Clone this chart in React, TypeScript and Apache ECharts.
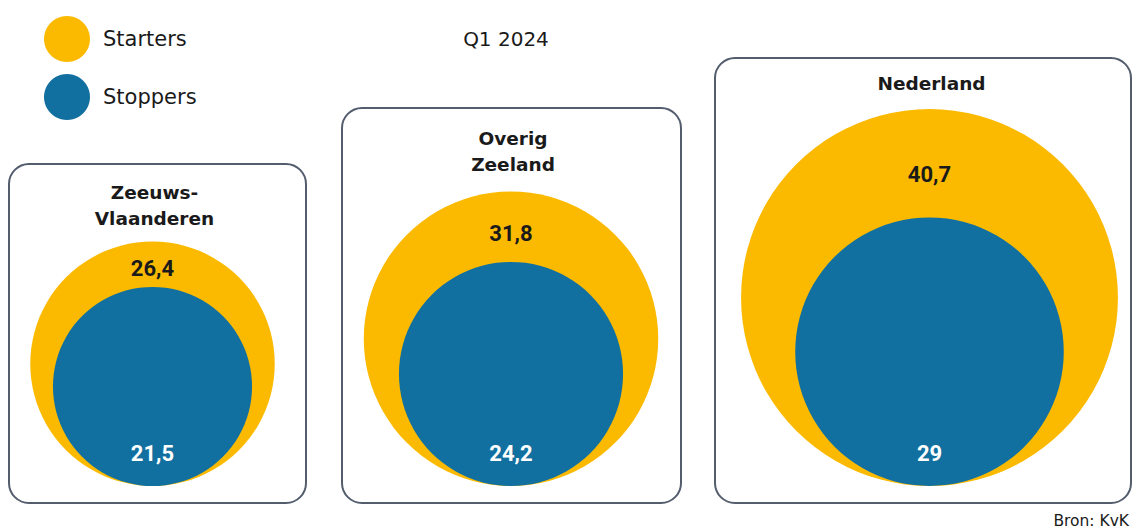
import React, { useEffect, useRef } from "react";
import * as echarts from "echarts";

const regions = ["Zeeuws-\nVlaanderen", "Overig\nZeeland", "Nederland"];
const starters = [26.4, 31.8, 40.7];
const stoppers = [21.5, 24.2, 29];
const chartTitle = "Q1 2024";
const source = "Bron: KvK";

const YELLOW = "#FBBA00";
const BLUE = "#1170A0";
const TEXT = "#1a1a1a";
const BORDER = "#535D6D";
const FONT = "DejaVu Sans";
const NUMFONT = "Roboto";

// layout (pixels)
const centersX = [152.5, 511, 929.5];
const baselineY = 486;
const pxPerUnit = 4.63;
const yMax = 50;
const boxes = [
  { x: 9, y: 164, w: 297, h: 339 },
  { x: 342, y: 108, w: 339, h: 395 },
  { x: 715, y: 58, w: 416, h: 445 },
];
const titleCenterY = [205, 151.5, 83];

const fmt = (v: number) => String(v).replace(".", ",");

export default function App() {
  const ref = useRef<HTMLDivElement>(null);
  useEffect(() => {
    document.body.style.margin = "0";
    const chart = echarts.init(ref.current!, null, { renderer: "svg" });
    const gridH = yMax * pxPerUnit;
    const grids = centersX.map((cx) => ({
      left: cx - 50,
      width: 100,
      top: baselineY - gridH,
      height: gridH,
    }));
    const xAxes = regions.map((r, i) => ({
      type: "category",
      gridIndex: i,
      data: [r],
      show: false,
    }));
    const yAxes = regions.map((_, i) => ({
      type: "value",
      gridIndex: i,
      min: 0,
      max: yMax,
      show: false,
      splitLine: { show: false },
    }));
    const starterSeries = regions.map((_, i) => ({
      type: "custom",
      name: "Starters",
      xAxisIndex: i,
      yAxisIndex: i,
      itemStyle: { color: YELLOW },
      data: [[0, starters[i], stoppers[i]]],
      renderItem: (params: any, api: any) => {
        const base = api.coord([0, 0]);
        const r = api.size([0, api.value(1)])[1];
        const rb = api.size([0, api.value(2)])[1];
        const yTop = base[1] - 2 * r;
        const bTop = base[1] - 2 * rb;
        return {
          type: "group",
          children: [
            {
              type: "circle",
              shape: { cx: base[0], cy: base[1] - r, r },
              style: { fill: YELLOW },
            },
            {
              type: "text",
              z2: 10,
              style: {
                text: fmt(api.value(1)),
                x: base[0],
                y: yTop + (bTop - yTop) * 0.6,
                align: "center",
                verticalAlign: "middle",
                fill: TEXT,
                fontSize: 22,
                fontWeight: "bold",
                fontFamily: NUMFONT,
              },
            },
          ],
        };
      },
    }));
    const stopperSeries = regions.map((_, i) => ({
      type: "custom",
      name: "Stoppers",
      xAxisIndex: i,
      yAxisIndex: i,
      itemStyle: { color: BLUE },
      data: [[0, stoppers[i]]],
      renderItem: (params: any, api: any) => {
        const base = api.coord([0, 0]);
        const r = api.size([0, api.value(1)])[1];
        return {
          type: "group",
          children: [
            {
              type: "circle",
              shape: { cx: base[0], cy: base[1] - r, r },
              style: { fill: BLUE },
            },
            {
              type: "text",
              z2: 10,
              style: {
                text: fmt(api.value(1)),
                x: base[0],
                y: base[1] - 33,
                align: "center",
                verticalAlign: "middle",
                fill: "#ffffff",
                fontSize: 22,
                fontWeight: "bold",
                fontFamily: NUMFONT,
              },
            },
          ],
        };
      },
    }));

    const graphics: any[] = [];
    boxes.forEach((b, i) => {
      graphics.push({
        type: "rect",
        z: -1,
        shape: { x: b.x, y: b.y, width: b.w, height: b.h, r: 20 },
        style: { fill: "#ffffff", stroke: BORDER, lineWidth: 2 },
      });
      graphics.push({
        type: "text",
        z: 5,
        style: {
          text: regions[i],
          x: centersX[i] + 2,
          y: titleCenterY[i],
          textAlign: "center",
          textVerticalAlign: "middle",
          fontSize: 18.5,
          fontWeight: "bold",
          fontFamily: FONT,
          lineHeight: 26,
          fill: TEXT,
        },
      });
    });
    graphics.push({
      type: "text",
      style: {
        text: chartTitle,
        x: 506,
        y: 39,
        textAlign: "center",
        textVerticalAlign: "middle",
        fontSize: 20,
        fontFamily: FONT,
        fill: TEXT,
      },
    });
    graphics.push({
      type: "text",
      style: {
        text: source,
        x: 1129,
        y: 521,
        textAlign: "right",
        textVerticalAlign: "middle",
        fontSize: 15.5,
        fontFamily: FONT,
        fill: TEXT,
      },
    });

    chart.setOption({
      animation: false,
      backgroundColor: "#ffffff",
      legend: {
        orient: "vertical",
        left: 39,
        top: 11,
        itemWidth: 46,
        itemHeight: 46,
        itemGap: 12,
        icon: "circle",
        selectedMode: false,
        textStyle: {
          fontSize: 21,
          fontFamily: FONT,
          color: TEXT,
          padding: [0, 0, 0, 8],
        },
        data: [
          { name: "Starters", itemStyle: { color: YELLOW } },
          { name: "Stoppers", itemStyle: { color: BLUE } },
        ],
      },
      grid: grids,
      xAxis: xAxes,
      yAxis: yAxes,
      series: [...starterSeries, ...stopperSeries],
      graphic: graphics,
    } as any);
    return () => chart.dispose();
  }, []);
  return <div ref={ref} style={{ width: 1132, height: 532 }} />;
}
